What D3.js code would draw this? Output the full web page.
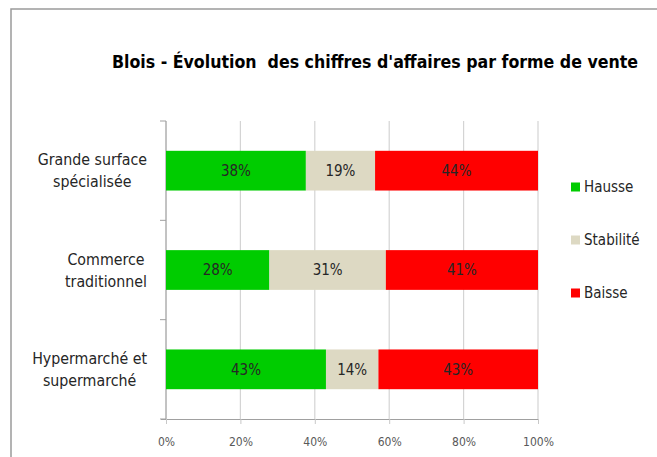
<!DOCTYPE html>
<html>
<head>
<meta charset="utf-8">
<style>
body { margin: 0; background: #fff; }
text { font-family: "Liberation Sans Narrow", "DejaVu Sans Condensed", "Open Sans", sans-serif; }
</style>
</head>
<body>
<svg id="chart" width="657" height="457"></svg>
<script src="https://d3js.org/d3.v7.min.js"></script>
<script>
var title = "Blois - \u00c9volution  des chiffres d'affaires par forme de vente";
var categories = [["Grande surface", "sp\u00e9cialis\u00e9e"], ["Commerce", "traditionnel"], ["Hypermarch\u00e9 et", "supermarch\u00e9"]];
var seriesNames = ["Hausse", "Stabilit\u00e9", "Baisse"];
var seriesColors = ["#00cc00", "#ddd9c3", "#ff0000"];
var hausse = [37.6, 27.8, 43.0];
var stabilite = [18.6, 31.3, 14.1];
var baisse = [43.8, 40.9, 42.9];
var xTicks = [0, 0.2, 0.4, 0.6, 0.8, 1];

var svg = d3.select("#chart");

// frame
svg.append("path")
  .attr("d", "M11,457 V9 H657")
  .attr("fill", "none")
  .attr("stroke", "#9a9a9a")
  .attr("stroke-width", 1.5);

svg.append("text")
  .attr("x", 375).attr("y", 68)
  .attr("text-anchor", "middle")
  .attr("font-size", 17.6).attr("font-weight", "bold")
  .attr("fill", "#000")
  .style("white-space", "pre")
  .text(title);

var pLeft = 166, pRight = 538, pTop = 121, pBottom = 419;

var x = d3.scaleLinear().domain([0, 1]).range([pLeft, pRight]);
var y = d3.scaleBand().domain(d3.range(categories.length)).range([pTop, pBottom])
  .paddingInner(0.6).paddingOuter(0.3);

// grid
svg.append("g").selectAll("line").data(xTicks).enter().append("line")
  .attr("x1", d => x(d)).attr("x2", d => x(d))
  .attr("y1", pTop).attr("y2", pBottom)
  .attr("stroke", "#d4d4d4").attr("stroke-width", 1.2);

// x axis
var xAxis = svg.append("g")
  .attr("transform", "translate(0," + pBottom + ")")
  .call(d3.axisBottom(x).tickValues(xTicks).tickFormat(d3.format(".0%")).tickSize(5).tickSizeOuter(0));
xAxis.select(".domain").attr("stroke", "#a0a0a0").attr("d", "M" + (pLeft - 5) + ",0.5H" + pRight);
xAxis.selectAll(".tick line").attr("stroke", "#c8c8c8");
xAxis.selectAll(".tick text").attr("font-size", 12).attr("fill", "#595959").attr("y", 11).attr("dy", "1.3em")
  .style("font-family", "\"Liberation Sans Narrow\", \"DejaVu Sans Condensed\", sans-serif");

// category ticks on left
var catEdges = d3.range(categories.length + 1).map(i => pTop + i * (pBottom - pTop) / categories.length);
svg.append("g").selectAll("line").data(catEdges).enter().append("line")
  .attr("x1", pLeft - 6).attr("x2", pLeft)
  .attr("y1", d => d).attr("y2", d => d)
  .attr("stroke", "#a0a0a0");
svg.append("line").attr("x1", pLeft).attr("x2", pLeft).attr("y1", pTop).attr("y2", pBottom)
  .attr("stroke", "#a0a0a0");

// stacked bars
var rows = categories.map(function (c, i) {
  return { i: i, vals: [hausse[i], stabilite[i], baisse[i]] };
});
var stack = d3.stack().keys([0, 1, 2]).value((d, k) => d.vals[k] / 100);
var layers = stack(rows);

var g = svg.append("g");
layers.forEach(function (layer, k) {
  g.selectAll(".s" + k).data(layer).enter().append("rect")
    .attr("x", d => x(d[0])).attr("width", d => x(d[1]) - x(d[0]))
    .attr("y", d => y(d.data.i)).attr("height", y.bandwidth())
    .attr("fill", seriesColors[k]);
  g.selectAll(".t" + k).data(layer).enter().append("text")
    .attr("x", d => (x(d[0]) + x(d[1])) / 2)
    .attr("y", d => y(d.data.i) + y.bandwidth() / 2)
    .attr("dy", "0.35em")
    .attr("text-anchor", "middle")
    .attr("font-size", 15).attr("fill", "#262626")
    .text(d => Math.round(d.data.vals[k]) + "%");
});

// category labels: block right-aligned at 147, lines centred within block
categories.forEach(function (c, i) {
  var cy = y(i) + y.bandwidth() / 2;
  var t = svg.append("text").attr("text-anchor", "middle").attr("font-size", 15.8).attr("fill", "#262626");
  var spans = c.map(function (line, j) {
    return t.append("tspan").attr("y", cy - 11 + j * 22).attr("dy", "0.35em").text(line);
  });
  var maxW = d3.max(spans, s => s.node().getComputedTextLength());
  spans.forEach(s => s.attr("x", 147 - maxW / 2));
});

// legend
var legend = svg.append("g").selectAll("g").data(seriesNames).enter().append("g")
  .attr("transform", (d, i) => "translate(571," + (187 + i * 53) + ")");
legend.append("rect").attr("x", 0).attr("y", -4.5).attr("width", 9).attr("height", 9)
  .attr("fill", (d, i) => seriesColors[i]);
legend.append("text").attr("x", 13).attr("dy", "0.35em").attr("font-size", 15).attr("fill", "#262626")
  .text(d => d);
</script>
</body>
</html>
